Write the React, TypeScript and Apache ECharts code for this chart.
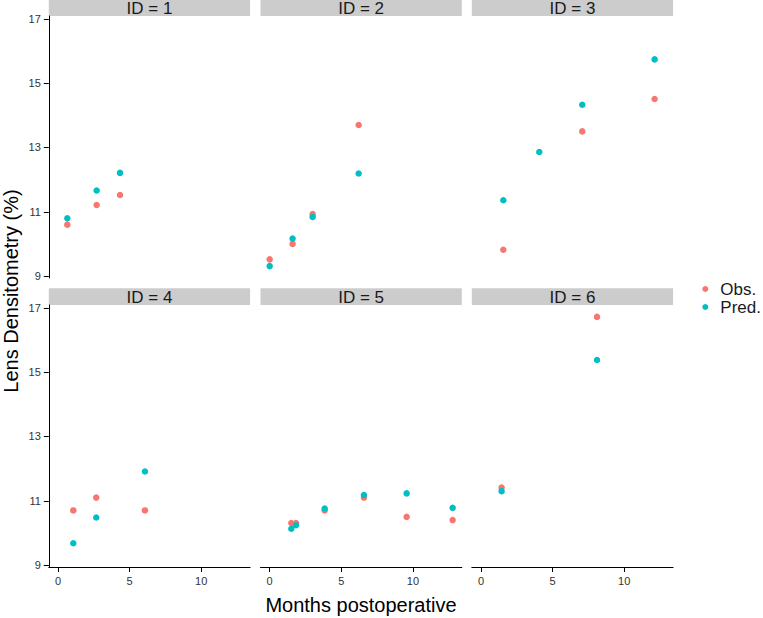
import React, { useEffect, useRef } from "react";
import * as echarts from "echarts";

const panelIds = [1, 2, 3, 4, 5, 6];

const months1 = [0.65, 2.7, 4.33];
const obs1 = [10.6, 11.21, 11.52];
const pred1 = [10.8, 11.66, 12.21];

const months2 = [0, 1.6, 3.0, 6.21];
const obs2 = [9.52, 10.0, 10.93, 13.7];
const pred2 = [9.31, 10.17, 10.84, 12.19];

const months3 = [1.56, 4.07, 7.07, 12.12];
const obs3 = [9.82, null, 13.5, 14.51];
const pred3 = [11.36, 12.86, 14.33, 15.74];

const months4 = [1.07, 2.67, 6.07];
const obs4 = [10.7, 11.1, 10.7];
const pred4 = [9.68, 10.48, 11.91];

const months5 = [1.51, 1.84, 3.84, 6.58, 9.56, 12.77];
const obs5 = [10.31, 10.31, 10.7, 11.1, 10.5, 10.4];
const pred5 = [10.13, 10.24, 10.76, 11.18, 11.23, 10.78];

const months6 = [1.44, 8.1];
const obs6 = [11.41, 16.72];
const pred6 = [11.3, 15.38];

const monthsAll = [months1, months2, months3, months4, months5, months6];
const obsAll = [obs1, obs2, obs3, obs4, obs5, obs6];
const predAll = [pred1, pred2, pred3, pred4, pred5, pred6];

const yTicks = [9, 11, 13, 15, 17];
const xTicks = [0, 5, 10];
const seriesNames = ["Obs.", "Pred."];
const seriesColors = ["#F8766D", "#00BFC4"];

const xTitle = "Months postoperative";
const yTitle = "Lens Densitometry (%)";

const FONT = "'Liberation Sans', Arial, Helvetica, sans-serif";

export default function App() {
  const ref = useRef<HTMLDivElement>(null);
  useEffect(() => {
    if (!ref.current) return;
    const chart = echarts.init(ref.current, undefined, { renderer: "svg" });

    const colLefts = [48.8, 260.5, 471.8];
    const rowTops = [16, 305];
    const gw = 201.3;
    const gh = 262;
    const stripH = 16.7;

    const grids: any[] = [];
    const xAxes: any[] = [];
    const yAxes: any[] = [];
    const series: any[] = [];
    const graphics: any[] = [];

    panelIds.forEach((id, i) => {
      const row = Math.floor(i / 3);
      const col = i % 3;
      const left = colLefts[col];
      const top = rowTops[row];
      grids.push({ left, top, width: gw, height: gh, containLabel: false });
      const showX = row === 1;
      const showY = col === 0;
      xAxes.push({
        type: "value",
        gridIndex: i,
        min: -0.64,
        max: 13.41,
        splitLine: { show: false },
        axisLine: { show: showX, onZero: false, lineStyle: { color: "#000", width: 1 } },
        axisTick: { show: showX, length: 5, customValues: xTicks, lineStyle: { color: "#000", width: 1 } },
        axisLabel: {
          show: showX,
          customValues: xTicks,
          margin: 8,
          fontSize: 11,
          color: "#333",
          fontFamily: FONT,
        },
      });
      yAxes.push({
        type: "value",
        gridIndex: i,
        min: 8.94,
        max: 17.09,
        splitLine: { show: false },
        axisLine: { show: showY, onZero: false, lineStyle: { color: "#000", width: 1 } },
        axisTick: { show: showY, length: 5, customValues: yTicks, lineStyle: { color: "#000", width: 1 } },
        axisLabel: {
          show: showY,
          customValues: yTicks,
          margin: 8,
          fontSize: 11,
          color: "#333",
          fontFamily: FONT,
        },
      });
      const m = monthsAll[i];
      [obsAll[i], predAll[i]].forEach((vals, k) => {
        series.push({
          type: "scatter",
          name: seriesNames[k],
          xAxisIndex: i,
          yAxisIndex: i,
          symbol: "circle",
          symbolSize: 6.5,
          itemStyle: { color: seriesColors[k], opacity: 1 },
          data: m
            .map((x, j) => (vals[j] == null ? null : [x, vals[j]]))
            .filter((d) => d !== null),
          z: 2 + k,
        });
      });
      graphics.push({
        type: "rect",
        shape: { x: left, y: top - stripH, width: gw, height: stripH },
        style: { fill: "#CCCCCC" },
        silent: true,
      });
      graphics.push({
        type: "text",
        x: left + gw / 2,
        y: top - stripH / 2 + 0.5,
        style: {
          text: "ID = " + id,
          fontSize: 17,
          fontFamily: FONT,
          fill: "#1a1a1a",
          align: "center",
          verticalAlign: "middle",
        },
        silent: true,
      });
    });

    graphics.push({
      type: "text",
      x: 361,
      y: 605,
      style: {
        text: xTitle,
        fontSize: 20,
        fontFamily: FONT,
        fill: "#000",
        align: "center",
        verticalAlign: "middle",
      },
    });
    graphics.push({
      type: "text",
      x: 11,
      y: 291,
      rotation: Math.PI / 2,
      style: {
        text: yTitle,
        fontSize: 20,
        fontFamily: FONT,
        fill: "#000",
        align: "center",
        verticalAlign: "middle",
      },
    });

    chart.setOption({
      animation: false,
      backgroundColor: "#fff",
      grid: grids,
      xAxis: xAxes,
      yAxis: yAxes,
      series,
      graphic: graphics,
      legend: {
        data: seriesNames.map((n) => ({ name: n, icon: "circle" })),
        orient: "vertical",
        left: 697.3,
        top: 275.5,
        itemWidth: 20,
        itemHeight: 6,
        itemGap: 1,
        selectedMode: false,
        textStyle: { fontSize: 17, lineHeight: 15.7, fontFamily: FONT, color: "#1a1a1a" },
      },
    });
    return () => chart.dispose();
  }, []);
  return (
    <div
      ref={ref}
      style={{ position: "fixed", left: 0, top: 0, width: 763, height: 618 }}
    />
  );
}
